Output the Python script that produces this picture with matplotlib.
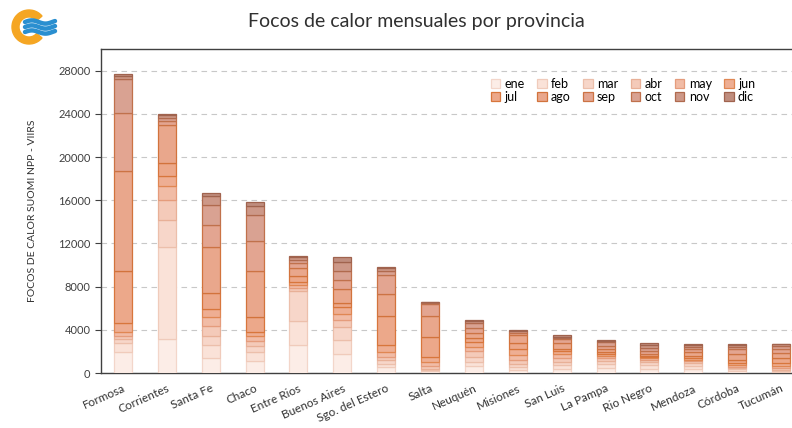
import numpy as np
import matplotlib
matplotlib.use("Agg")
import matplotlib.pyplot as plt
from matplotlib.patches import Wedge

provincias = ["Formosa", "Corrientes", "Santa Fe", "Chaco", "Entre Rios", "Buenos Aires",
              "Sgo. del Estero", "Salta", "Neuquén", "Misiones", "San Luis", "La Pampa",
              "Rio Negro", "Mendoza", "Córdoba", "Tucumán"]
meses = ["ene", "feb", "mar", "abr", "may", "jun", "jul", "ago", "sep", "oct", "nov", "dic"]

formosa = [1910, 870, 370, 250, 370, 860, 4840, 9260, 5340, 3180, 250, 150]
corrientes = [3150, 8490, 2500, 1850, 1300, 930, 1230, 3490, 430, 250, 240, 130]
santa_fe = [1390, 1230, 770, 930, 860, 740, 1480, 4260, 2010, 1850, 830, 310]
chaco = [1150, 760, 560, 460, 460, 370, 1420, 4290, 2720, 2410, 830, 370]
entre_rios = [2600, 2240, 2750, 250, 310, 300, 500, 800, 450, 300, 200, 100]
buenos_aires = [1750, 1310, 1190, 690, 560, 630, 380, 1310, 810, 850, 780, 450]
sgo_estero = [560, 310, 320, 310, 400, 690, 2660, 2030, 1780, 410, 250, 120]
salta = [150, 100, 156, 250, 375, 469, 1875, 1937, 1100, 100, 30, 20]
neuquen = [625, 406, 469, 531, 406, 469, 375, 469, 406, 469, 150, 162]
misiones = [250, 312, 313, 312, 469, 531, 563, 781, 219, 100, 50, 37]
san_luis = [400, 300, 292, 400, 375, 240, 225, 500, 430, 120, 97, 155]
la_pampa = [450, 400, 297, 250, 215, 150, 160, 310, 310, 310, 120, 97]
rio_negro = [400, 350, 300, 200, 150, 100, 100, 200, 250, 300, 250, 190]
mendoza = [350, 300, 250, 200, 150, 150, 200, 300, 300, 250, 150, 100]
cordoba = [200, 150, 100, 150, 150, 200, 300, 500, 450, 250, 150, 100]
tucuman = [100, 100, 100, 150, 200, 300, 400, 500, 400, 250, 150, 50]

series = [formosa, corrientes, santa_fe, chaco, entre_rios, buenos_aires, sgo_estero,
          salta, neuquen, misiones, san_luis, la_pampa, rio_negro, mendoza, cordoba, tucuman]
data = np.array(series, dtype=float)  # provinces x months

face = ["#fcede7", "#fae2d8", "#f7d6c9", "#f4cab9", "#f1bca6", "#eeae93",
        "#eca88a", "#e9a78c", "#e3a591", "#d9a292", "#cd9888", "#bf8d7e"]
edge = ["#f3d6ca", "#f0cbbb", "#ecbfab", "#e8b097", "#e59c7c", "#e08753",
        "#d8763c", "#d2733c", "#cc7344", "#c0714c", "#b06a4e", "#a0634e"]

fig = plt.figure(figsize=(7.92, 4.28), dpi=100)
plt.rcParams['font.family'] = ['Lato', 'DejaVu Sans']

W, H = 792.0, 428.0
ax = fig.add_axes([101 / W, 55 / H, 702 / W, 324 / H])

x = np.arange(len(provincias))
bottom = np.zeros(len(provincias))
handles = []
for i, m in enumerate(meses):
    b = ax.bar(x, data[:, i], bottom=bottom, width=0.41, color=face[i],
               edgecolor=edge[i], linewidth=0.9, label=m, zorder=3)
    handles.append(b)
    bottom += data[:, i]

ax.set_xlim(-0.5, 15.5)
ax.set_ylim(0, 30000)
ax.set_yticks(np.arange(0, 28001, 4000))
ax.tick_params(axis='y', labelsize=8, colors='#404040', length=4, direction='out', width=0.8)
ax.tick_params(axis='x', length=0, pad=7)
ax.set_xticks(x)
ax.set_xticklabels(provincias, rotation=24, ha='right', rotation_mode='anchor',
                   fontsize=8.5, color='#303030')
ax.grid(axis='y', linestyle=(0, (5, 4)), color='#c8c8c8', linewidth=0.8, zorder=0)
for s in ['left', 'bottom', 'top']:
    ax.spines[s].set_color('#404040')
    ax.spines[s].set_linewidth(1.0)
ax.spines['right'].set_visible(False)

ax.set_ylabel("FOCOS DE CALOR SUOMI NPP - VIIRS", fontsize=7.5, color='#303030', labelpad=15)

# row-wise legend order
order = []
for c in range(6):
    order += [c, c + 6]
leg = ax.legend(handles=[handles[k] for k in order], labels=[meses[k] for k in order],
                ncol=6, loc='upper left',
                bbox_to_anchor=(381 / 702, 1 - 20 / 324), fontsize=9, frameon=True,
                handlelength=0.75, handleheight=0.75, handletextpad=0.35, columnspacing=1.0,
                labelspacing=0.1, borderpad=0.2)
leg.get_frame().set_edgecolor('none')
leg.get_frame().set_facecolor('white')
leg.get_frame().set_alpha(1.0)
leg.set_zorder(5)

fig.text(416 / W, 1 - 22 / H, "Focos de calor mensuales por provincia", ha='center', va='center',
         fontsize=14, color='#303030')

# logo
lax = fig.add_axes([5 / W, 1 - 52 / H, 56 / W, 50 / H])
lax.set_xlim(0, 56)
lax.set_ylim(0, 50)
lax.set_aspect('equal')
lax.axis('off')
lax.add_patch(Wedge((24, 25), 17, 40, 320, width=7, color='#f5a623'))
t = np.linspace(0, 1, 50)
for k, yy in enumerate([30, 25, 20]):
    xs = 20 + 30 * t
    ys = yy + 1.6 * np.sin(t * 2 * np.pi * 1.1)
    lax.plot(xs, ys, color='#2a8fd0', lw=3.2, solid_capstyle='round')

fig.savefig("out.png", dpi=100)
